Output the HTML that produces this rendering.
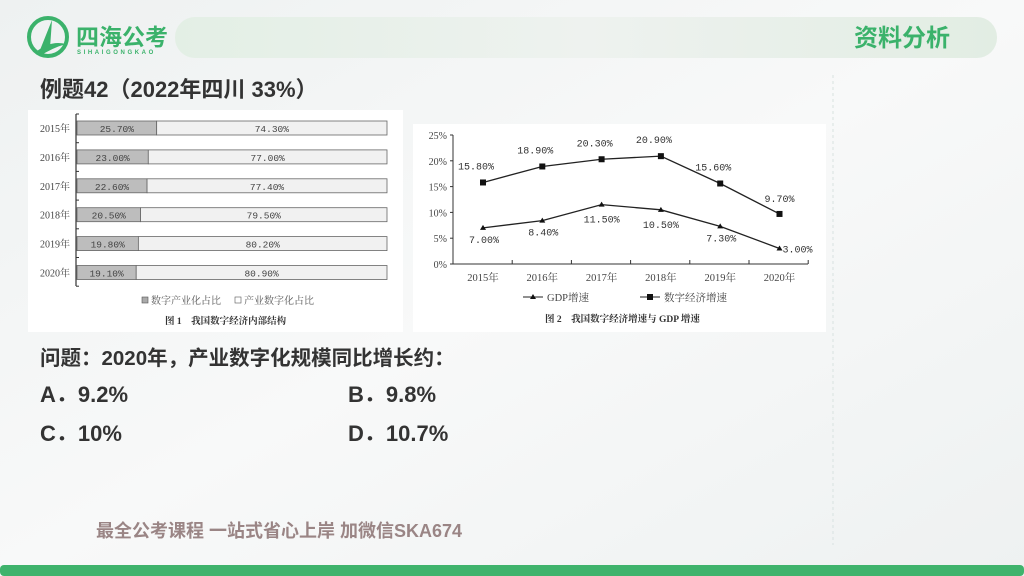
<!DOCTYPE html>
<html><head><meta charset="utf-8"><style>
html,body{margin:0;padding:0;width:1024px;height:576px;overflow:hidden;background:#f4f6f6}
svg{display:block}
.cj{font-family:"Liberation Sans","Noto Sans CJK SC",sans-serif}
.sf{font-family:"Liberation Serif","Noto Serif CJK SC",serif}
.mn{font-family:"Liberation Mono","Noto Serif CJK SC",monospace}
</style></head><body>
<svg width="1024" height="576" viewBox="0 0 1024 576" xmlns="http://www.w3.org/2000/svg">
<defs>
<linearGradient id="bg" x1="0" y1="0" x2="1" y2="1"><stop offset="0" stop-color="#eef1f1"/><stop offset="0.5" stop-color="#f8f9f9"/><stop offset="1" stop-color="#eef1f1"/></linearGradient>
<linearGradient id="pill" x1="0" y1="0" x2="1" y2="0"><stop offset="0" stop-color="#e3efe5"/><stop offset="0.5" stop-color="#eef2ef"/><stop offset="1" stop-color="#e2ede3"/></linearGradient>
</defs>
<rect width="1024" height="576" fill="url(#bg)"/>
<g>
<circle cx="48" cy="37" r="19" fill="none" stroke="#3bb26b" stroke-width="4"/>
<path d="M40 50 L52 20 L50 48 Z M36 52 Q50 40 66 44 Q52 48 40 56 Z" fill="#3bb26b"/>
<text x="76" y="45" class="cj" font-size="23" font-weight="bold" fill="#3bb26b">四海公考</text>
<text x="77" y="54" font-family="Liberation Sans,sans-serif" font-size="6" font-weight="bold" fill="#3bb26b" letter-spacing="2.6">SIHAIGONGKAO</text>
</g>
<rect x="175" y="17" width="822" height="41" rx="20" fill="url(#pill)"/>
<text x="854" y="46" class="cj" font-size="24" font-weight="bold" fill="#3bb26b">资料分析</text>
<text x="40" y="97" class="cj" font-size="22" font-weight="bold" fill="#333">例题42（2022年四川  33%）</text>
<line x1="833" y1="75" x2="833" y2="545" stroke="#d8e2e0" stroke-dasharray="3,3"/>

<g id="bar-chart">
<rect x="28" y="110" width="375" height="222" fill="#fff"/>
</g>
<g id="line-chart">
<rect x="413" y="124" width="413" height="208" fill="#fff"/>
</g>

<text x="40" y="365" class="cj" font-size="20.5" font-weight="bold" fill="#333">问题：2020年，产业数字化规模同比增长约：</text>
<text x="40" y="402" class="cj" font-size="22" font-weight="bold" fill="#333">A．9.2%</text>
<text x="348" y="402" class="cj" font-size="22" font-weight="bold" fill="#333">B．9.8%</text>
<text x="40" y="441" class="cj" font-size="22" font-weight="bold" fill="#333">C．10%</text>
<text x="348" y="441" class="cj" font-size="22" font-weight="bold" fill="#333">D．10.7%</text>
<text x="96" y="537" class="cj" font-size="18" font-weight="bold" fill="#9a8585">最全公考课程 一站式省心上岸 加微信SKA674</text>
<rect x="0" y="565" width="1024" height="11" rx="4" fill="#3fb36c"/>
</svg>
<script>
const NS="http://www.w3.org/2000/svg";
const barYears=["2015年","2016年","2017年","2018年","2019年","2020年"];
const digitalIndustry=[25.7,23.0,22.6,20.5,19.8,19.1];
const industryDigital=[74.3,77.0,77.4,79.5,80.2,80.9];
const lineYears=["2015年","2016年","2017年","2018年","2019年","2020年"];
const gdpGrowth=[7.0,8.4,11.5,10.5,7.3,3.0];
const digitalGrowth=[15.8,18.9,20.3,20.9,15.6,9.7];
const yTicks=[0,5,10,15,20,25];

function mk(parent,tag,attrs,txt){const e=document.createElementNS(NS,tag);for(const k in attrs)e.setAttribute(k,attrs[k]);if(txt!==undefined)e.textContent=txt;parent.appendChild(e);return e;}
const fmt=v=>v.toFixed(2)+"%";

const bc=document.getElementById("bar-chart");
const bx=v=>77+v*3.1;
const by=i=>121+i*28.9;
mk(bc,"line",{x1:76,y1:114,x2:76,y2:286,stroke:"#333","stroke-width":1.2});
for(let i=0;i<=barYears.length;i++)mk(bc,"line",{x1:76,y1:114+i*28.7,x2:79,y2:114+i*28.7,stroke:"#333"});
barYears.forEach((y,i)=>{
 const t=mk(bc,"text",{x:70,y:by(i)+11,"text-anchor":"end","font-size":10,fill:"#444",class:"sf"},y);
 
 
 const a=mk(bc,"rect",{x:bx(0),y:by(i),width:bx(digitalIndustry[i])-bx(0),height:14,fill:"#bdbdbd",stroke:"#666","stroke-width":0.8});
 
 
 const b=mk(bc,"rect",{x:bx(digitalIndustry[i]),y:by(i),width:bx(100)-bx(digitalIndustry[i]),height:14,fill:"#f1f1f1",stroke:"#666","stroke-width":0.8});
 
 
 mk(bc,"text",{x:(bx(0)+bx(digitalIndustry[i]))/2,y:by(i)+11,"text-anchor":"middle","font-size":9.5,fill:"#444",class:"mn"},fmt(digitalIndustry[i]));
 mk(bc,"text",{x:(bx(digitalIndustry[i])+bx(100))/2,y:by(i)+11,"text-anchor":"middle","font-size":9.5,fill:"#444",class:"mn"},fmt(industryDigital[i]));
});
const lg1=mk(bc,"g",{});


mk(lg1,"rect",{x:142,y:297,width:6,height:6,fill:"#aaa",stroke:"#555","stroke-width":0.6});
mk(lg1,"text",{x:151,y:304,"font-size":10,fill:"#555",class:"sf"},"数字产业化占比");
mk(lg1,"rect",{x:235,y:297,width:6,height:6,fill:"#fff",stroke:"#555","stroke-width":0.6});
mk(lg1,"text",{x:244,y:304,"font-size":10,fill:"#555",class:"sf"},"产业数字化占比");
mk(bc,"text",{x:165,y:324,"font-size":9.5,"font-weight":"bold",fill:"#333",class:"sf"},"图 1　我国数字经济内部结构");

const lc=document.getElementById("line-chart");
const lx=i=>483+i*59.3;
const ly=v=>264-v*129/25;
mk(lc,"line",{x1:453,y1:135,x2:453,y2:264,stroke:"#333"});
mk(lc,"line",{x1:453,y1:264,x2:808,y2:264,stroke:"#333"});
yTicks.forEach(t=>{
 mk(lc,"line",{x1:450,y1:ly(t),x2:453,y2:ly(t),stroke:"#333"});
 const e=mk(lc,"text",{x:447,y:ly(t)+4,"text-anchor":"end","font-size":10,fill:"#444",class:"sf"},t+"%");
 
 
});
for(let i=0;i<=lineYears.length;i++){const x=453+i*59.2;mk(lc,"line",{x1:x,y1:264,x2:x,y2:260,stroke:"#333"});}
lineYears.forEach((y,i)=>{
 const e=mk(lc,"text",{x:lx(i),y:281,"text-anchor":"middle","font-size":10.5,fill:"#444",class:"sf"},y);
 
 
});
const p1=mk(lc,"polyline",{points:digitalGrowth.map((v,i)=>lx(i)+","+ly(v)).join(" "),fill:"none",stroke:"#222","stroke-width":1.3});


const p2=mk(lc,"polyline",{points:gdpGrowth.map((v,i)=>lx(i)+","+ly(v)).join(" "),fill:"none",stroke:"#222","stroke-width":1.3});


digitalGrowth.forEach((v,i)=>{
 const m=mk(lc,"rect",{x:lx(i)-3,y:ly(v)-3,width:6,height:6,fill:"#111"});
 
 
 const lab=i===5?[lx(i),ly(v)-12]:[lx(i)-7,ly(v)-13];
 mk(lc,"text",{x:lab[0],y:lab[1],"text-anchor":"middle","font-size":10,fill:"#333",class:"mn"},fmt(v));
});
gdpGrowth.forEach((v,i)=>{
 const m=mk(lc,"polygon",{points:`${lx(i)},${ly(v)-3} ${lx(i)-3},${ly(v)+2} ${lx(i)+3},${ly(v)+2}`,fill:"#111"});
 
 
 const lab=i===5?[lx(i)+18,ly(v)+4]:(i===2||i===3?[lx(i),ly(v)+18]:[lx(i)+1,ly(v)+15]);
 mk(lc,"text",{x:lab[0],y:lab[1],"text-anchor":"middle","font-size":10,fill:"#333",class:"mn"},fmt(v));
});
const lg2=mk(lc,"g",{});


mk(lg2,"line",{x1:523,y1:297,x2:543,y2:297,stroke:"#222"});
mk(lg2,"polygon",{points:"533,294 530,299 536,299",fill:"#111"});
mk(lg2,"text",{x:547,y:301,"font-size":10.5,fill:"#444",class:"sf"},"GDP增速");
mk(lg2,"line",{x1:640,y1:297,x2:660,y2:297,stroke:"#222"});
mk(lg2,"rect",{x:647,y:294,width:6,height:6,fill:"#111"});
mk(lg2,"text",{x:664,y:301,"font-size":10.5,fill:"#444",class:"sf"},"数字经济增速");
mk(lc,"text",{x:545,y:322,"font-size":9.5,"font-weight":"bold",fill:"#333",class:"sf"},"图 2　我国数字经济增速与 GDP 增速");
</script>
</body></html>
